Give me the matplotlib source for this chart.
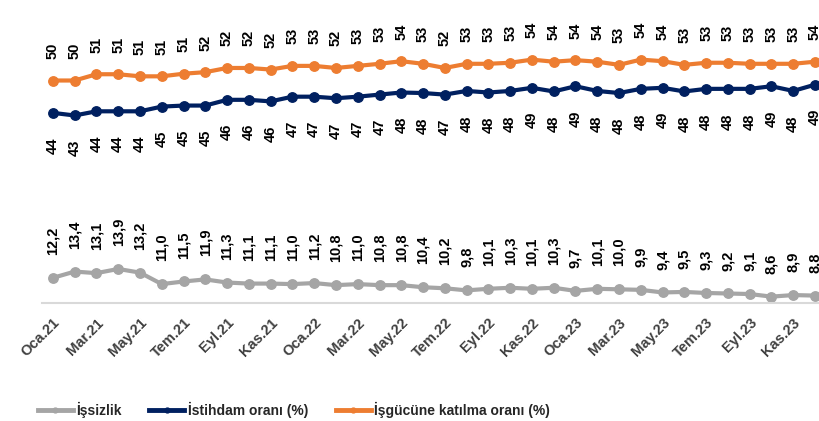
import numpy as np
import matplotlib
matplotlib.use("Agg")
import matplotlib.pyplot as plt
from matplotlib.lines import Line2D

plt.rcParams['font.family'] = ['Liberation Sans', 'DejaVu Sans']

months = ["Oca", "Şub", "Mar", "Nis", "May", "Haz", "Tem", "Ağu", "Eyl", "Eki", "Kas", "Ara"]
years = ["21", "22", "23"]
dates = [f"{m}.{y}" for y in years for m in months]

# işsizlik oranı (%)
unemployment = [12.2, 13.4, 13.1, 13.9, 13.2, 11.0, 11.5, 11.9, 11.3, 11.1, 11.1, 11.0,
                11.2, 10.8, 11.0, 10.8, 10.8, 10.4, 10.2, 9.8, 10.1, 10.3, 10.1, 10.3,
                9.7, 10.1, 10.0, 9.9, 9.4, 9.5, 9.3, 9.2, 9.1, 8.6, 8.9, 8.8]
# istihdam oranı (%)
employment = [43.8, 43.3, 44.1, 44.1, 44.1, 45.0, 45.2, 45.2, 46.3, 46.3, 46.0, 46.9,
              46.9, 46.6, 46.9, 47.3, 47.7, 47.6, 47.3, 48.0, 47.7, 48.0, 48.6, 47.9,
              48.9, 48.0, 47.6, 48.4, 48.6, 47.9, 48.4, 48.4, 48.4, 48.9, 48.0, 49.2]
# işgücüne katılma oranı (%)
participation = [50.0, 50.0, 51.2, 51.2, 50.8, 50.8, 51.3, 51.6, 52.4, 52.4, 52.1, 52.8,
                 52.8, 52.4, 52.8, 53.2, 53.7, 53.2, 52.4, 53.2, 53.2, 53.4, 54.0, 53.6,
                 53.9, 53.6, 53.0, 54.0, 53.7, 53.0, 53.4, 53.4, 53.2, 53.2, 53.2, 53.6]

GRAY = "#A5A5A5"
NAVY = "#002060"
ORANGE = "#ED7D31"

fig = plt.figure(figsize=(8.2, 4.21), dpi=100)
ax = fig.add_axes([42 / 820, 1 - 303 / 421, 1 - 42 / 820, 303 / 421])

x = np.arange(len(dates))
ax.plot(x, unemployment, "-o", color=GRAY, lw=3, ms=6.8)
ax.plot(x, employment, "-o", color=NAVY, lw=3, ms=6.8)
ax.plot(x, participation, "-o", color=ORANGE, lw=3, ms=6.8)

for i in x:
    ax.annotate(f"{unemployment[i]:.1f}".replace(".", ","), (i, unemployment[i]),
                xytext=(0, 16.5), textcoords="offset points", rotation=90,
                ha="center", va="bottom", fontsize=10.5, fontweight="bold")
    ax.annotate(f"{employment[i]:.0f}", (i, employment[i]),
                xytext=(0, -17.5), textcoords="offset points", rotation=90,
                ha="center", va="top", fontsize=10.5, fontweight="bold")
    ax.annotate(f"{participation[i]:.0f}", (i, participation[i]),
                xytext=(0, 15.5), textcoords="offset points", rotation=90,
                ha="center", va="bottom", fontsize=10.5, fontweight="bold")

ax.set_xlim(-0.5, 35.23)
ax.set_ylim(7.38, 65.42)
ax.set_yticks([])
ax.set_xticks(x[::2])
ax.set_xticklabels(dates[::2], color="#404040", fontsize=10.5, fontweight="bold")
plt.setp(ax.get_xticklabels(), rotation=45, ha="right", va="top", rotation_mode="anchor")
ax.tick_params(axis="x", length=0, pad=9)
for s in ["top", "left", "right"]:
    ax.spines[s].set_visible(False)
ax.spines["bottom"].set_color("#D9D9D9")
ax.spines["bottom"].set_linewidth(1.5)

handles = [Line2D([], [], color=c, lw=3.5, marker="o", ms=3.5) for c in (GRAY, NAVY, ORANGE)]
names = ["İşsizlik", "İstihdam oranı (%)", "İşgücüne katılma oranı (%)"]
leg = fig.legend(handles, names, loc="center left", bbox_to_anchor=(38 / 820, 1 - 410 / 421),
                 ncol=3, frameon=False, borderpad=0, borderaxespad=0, handlelength=2.5,
                 handletextpad=0.25, columnspacing=2.0,
                 prop={"weight": "bold", "size": 10})
for t in leg.get_texts():
    t.set_color("#262626")

fig.savefig("out.png", dpi=100)
